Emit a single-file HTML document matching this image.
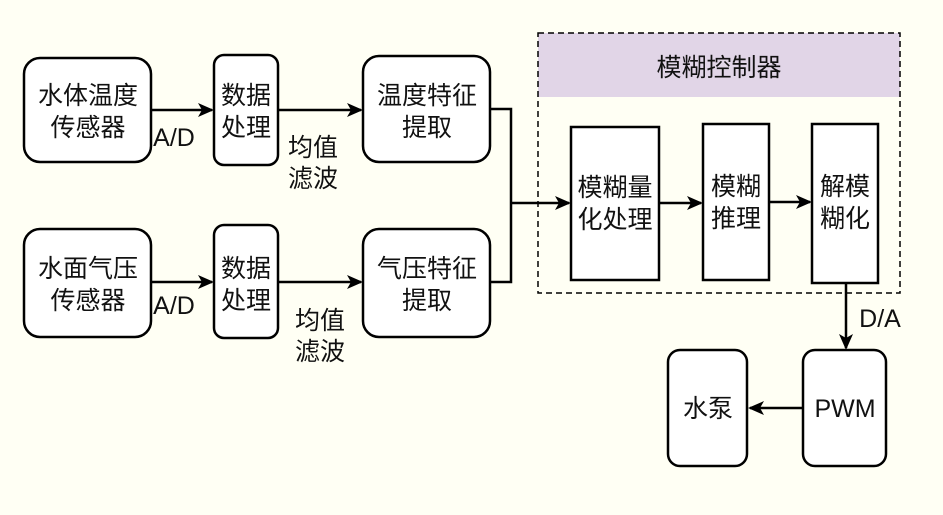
<!DOCTYPE html>
<html><head><meta charset="utf-8"><style>
body{margin:0;background:#fffff4;}
svg{display:block;}
text{font-family:"Liberation Sans","Noto Sans CJK SC",sans-serif;font-size:25px;fill:#111;text-anchor:middle;}
</style></head><body>
<svg width="943" height="515" viewBox="0 0 943 515">
<defs><marker id="a" markerWidth="16" markerHeight="14" refX="14" refY="7" orient="auto" markerUnits="userSpaceOnUse"><path d="M0,0 L16,7 L0,14 L4,7 Z" fill="#000"/></marker></defs>
<rect width="943" height="515" fill="#fffff4"/>
<rect x="538" y="33" width="362" height="64" fill="#e1d5e7"/>
<rect x="538" y="33" width="362" height="260" fill="none" stroke="#000" stroke-width="1.5" stroke-dasharray="6,4"/>
<text x="719" y="76">模糊控制器</text>
<g fill="#fff" stroke="#000" stroke-width="2.5">
<rect x="24" y="58" width="127" height="104" rx="16"/>
<rect x="214" y="55" width="64" height="110" rx="10"/>
<rect x="363" y="56" width="127" height="106" rx="16"/>
<rect x="24" y="229" width="127" height="108" rx="16"/>
<rect x="214" y="225" width="64" height="113" rx="10"/>
<rect x="363" y="229" width="127" height="108" rx="16"/>
<rect x="571" y="127" width="88" height="153"/>
<rect x="703" y="124" width="66" height="156"/>
<rect x="812" y="124" width="66" height="159"/>
<rect x="668" y="350" width="79" height="116" rx="12"/>
<rect x="803" y="350" width="83" height="116" rx="12"/>
</g>
<g stroke="#000" stroke-width="2.5" fill="none">
<path d="M151 110 H212" marker-end="url(#a)"/>
<path d="M278 110 H361" marker-end="url(#a)"/>
<path d="M151 282 H212" marker-end="url(#a)"/>
<path d="M278 282 H361" marker-end="url(#a)"/>
<path d="M490 109 H511 V282 H490"/>
<path d="M511 203 H569" marker-end="url(#a)"/>
<path d="M659 203 H701" marker-end="url(#a)"/>
<path d="M769 202 H810" marker-end="url(#a)"/>
<path d="M846 283 V348" marker-end="url(#a)"/>
<path d="M803 408 H750" marker-end="url(#a)"/>
</g>
<text x="88" y="104">水体温度</text><text x="88" y="136">传感器</text>
<text x="246" y="104">数据</text><text x="246" y="136">处理</text>
<text x="427" y="104">温度特征</text><text x="427" y="136">提取</text>
<text x="88" y="277">水面气压</text><text x="88" y="309">传感器</text>
<text x="246" y="277">数据</text><text x="246" y="309">处理</text>
<text x="427" y="277">气压特征</text><text x="427" y="309">提取</text>
<text x="174" y="146">A/D</text><text x="174" y="314">A/D</text>
<text x="313" y="156">均值</text><text x="313" y="187">滤波</text>
<text x="320" y="329">均值</text><text x="320" y="360">滤波</text>
<text x="615" y="196">模糊量</text><text x="615" y="228">化处理</text>
<text x="736" y="195">模糊</text><text x="736" y="227">推理</text>
<text x="845" y="195">解模</text><text x="845" y="227">糊化</text>
<text x="880" y="327">D/A</text>
<text x="708" y="417">水泵</text>
<text x="845" y="417">PWM</text>
</svg>
</body></html>
